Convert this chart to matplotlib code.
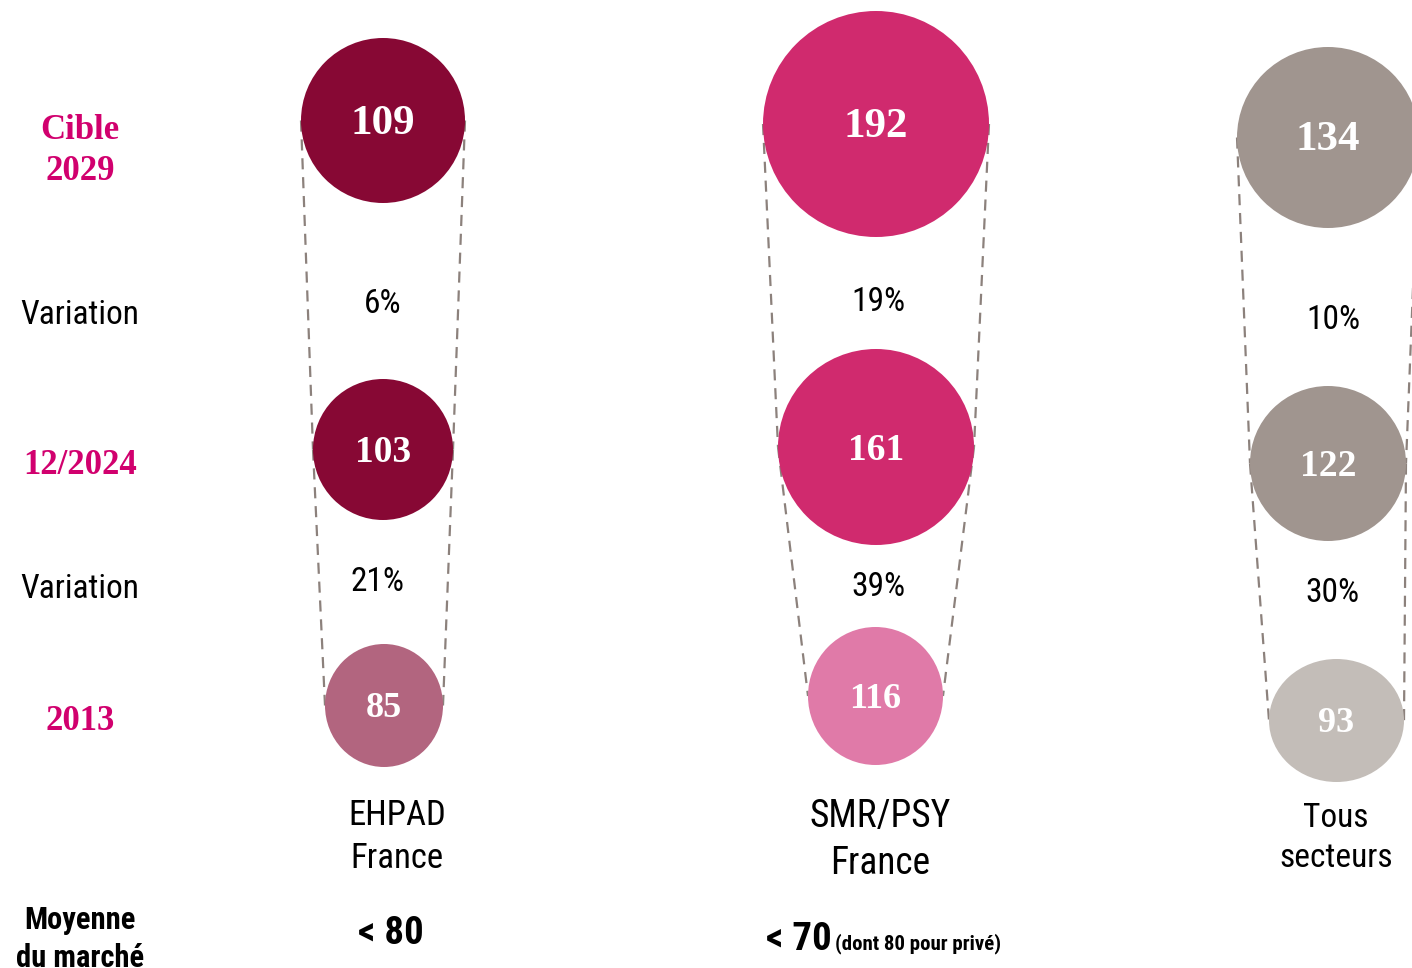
import matplotlib.pyplot as plt
from matplotlib import font_manager
from matplotlib.patches import Ellipse

# values shown in the bubbles, per sector: (cible 2029, 12/2024, 2013)
sectors = ["EHPAD\nFrance", "SMR/PSY\nFrance", "Tous\nsecteurs"]
values_2029 = [109, 192, 134]
values_2024 = [103, 161, 122]
values_2013 = [85, 116, 93]
var_2024_2029 = ["6%", "19%", "10%"]
var_2013_2024 = ["21%", "39%", "30%"]
row_labels = ["Cible\n2029", "Variation", "12/2024", "Variation", "2013"]
market_avg = ["< 80", "< 70"]
market_note = "(dont 80 pour privé)"

# layout (pixel coords on a 1412x968 canvas)
bubbles = [
    # (cx, cy, w, h) for 2029, 2024, 2013
    [(383, 120.5, 164, 165), (383, 449.5, 140, 141), (384, 705.5, 118, 123)],
    [(876, 124, 226, 226), (876, 447, 196, 196), (875.5, 696, 135, 138)],
    [(1328, 137.5, 182, 181), (1328, 463.5, 156, 155), (1336.5, 720.5, 135, 123)],
]
colors = [
    ["#870834", "#870834", "#B2657F"],
    ["#D02A6E", "#D02A6E", "#E07AA8"],
    ["#A0958F", "#A0958F", "#C3BDB8"],
]
num_sizes = [[31, 27, 26], [31, 27, 26], [31, 27, 26]]

SERIF = ["Liberation Serif", "DejaVu Serif"]
MAGENTA = "#D1006E"


def narrow_family():
    # look for a narrow / condensed sans face, else plain Liberation Sans
    names = sorted({f.name for f in font_manager.fontManager.ttflist})
    for key in ("Liberation Sans Narrow", "Arial Narrow", "Roboto Condensed",
                "Open Sans Condensed", "Noto Sans Condensed", "DejaVu Sans Condensed"):
        if key in names:
            return [key, "DejaVu Sans"], "normal"
    for n in names:
        if ("Narrow" in n or "Condensed" in n) and "Mono" not in n and "Serif" not in n:
            return [n, "DejaVu Sans"], "normal"
    for f in font_manager.fontManager.ttflist:
        if f.name == "DejaVu Sans" and f.stretch not in ("normal", 500):
            return ["DejaVu Sans"], "condensed"
    return ["Liberation Sans", "DejaVu Sans"], "normal"


NARROW, STRETCH = narrow_family()


def main():
    fig = plt.figure(figsize=(14.12, 9.68), dpi=100)
    ax = fig.add_axes([0, 0, 1, 1])
    ax.set_xlim(0, 1412)
    ax.set_ylim(968, 0)
    ax.axis("off")

    sans = dict(family=NARROW, fontstretch=STRETCH)

    values = list(zip(values_2029, values_2024, values_2013))
    for i in range(3):
        bs = bubbles[i]
        # dashed connectors from bubble edge to bubble edge
        for j in range(2):
            (x0, y0, w0, _), (x1, y1, w1, _) = bs[j], bs[j + 1]
            for sgn in (-1, 1):
                ax.plot([x0 + sgn * w0 / 2, x1 + sgn * w1 / 2], [y0, y1],
                        color="#8C817C", lw=1.6, ls=(0, (5, 3.5)), zorder=1)
        for j in range(3):
            cx, cy, w, h = bs[j]
            ax.add_patch(Ellipse((cx, cy), w, h, color=colors[i][j], zorder=2, lw=0))
            ax.text(cx, cy + 3, str(values[i][j]), ha="center", va="center",
                    color="white", fontsize=num_sizes[i][j], fontweight="bold",
                    family=SERIF, zorder=3)

    # variation percentages
    var_pos_top = [(383, 304), (878, 302), (1333, 320)]
    var_pos_bot = [(378, 582), (878, 587), (1332, 593)]
    for (x, y), t in zip(var_pos_top, var_2024_2029):
        ax.text(x, y, t, ha="center", va="center", fontsize=24, **sans)
    for (x, y), t in zip(var_pos_bot, var_2013_2024):
        ax.text(x, y, t, ha="center", va="center", fontsize=24, **sans)

    # row labels on the left
    row_y = [151, 315, 465, 589, 722]
    for lbl, y in zip(row_labels, row_y):
        if lbl == "Variation":
            ax.text(80, y, lbl, ha="center", va="center", fontsize=24, **sans)
        else:
            ax.text(80, y, lbl, ha="center", va="center", fontsize=25,
                    fontweight="bold", family=SERIF, color=MAGENTA, linespacing=1.33)

    # sector names
    sector_pos = [(397, 837, 25, 1.38), (880, 840, 27, 1.36), (1336, 838, 24, 1.35)]
    for name, (x, y, fs, ls) in zip(sectors, sector_pos):
        ax.text(x, y, name, ha="center", va="center", fontsize=fs,
                linespacing=ls, **sans)

    # market average row
    ax.text(80, 939, "Moyenne\ndu marché", ha="center", va="center", fontsize=22,
            fontweight="bold", linespacing=1.35, **sans)
    ax.text(391, 933, market_avg[0], ha="center", va="center", fontsize=28,
            fontweight="bold", **sans)
    ax.text(766, 940, market_avg[1], ha="left", va="center", fontsize=28,
            fontweight="bold", **sans)
    ax.text(835, 944, market_note, ha="left", va="center", fontsize=15,
            fontweight="bold", **sans)

    fig.savefig("out.png", dpi=100)


if __name__ == "__main__":
    main()
